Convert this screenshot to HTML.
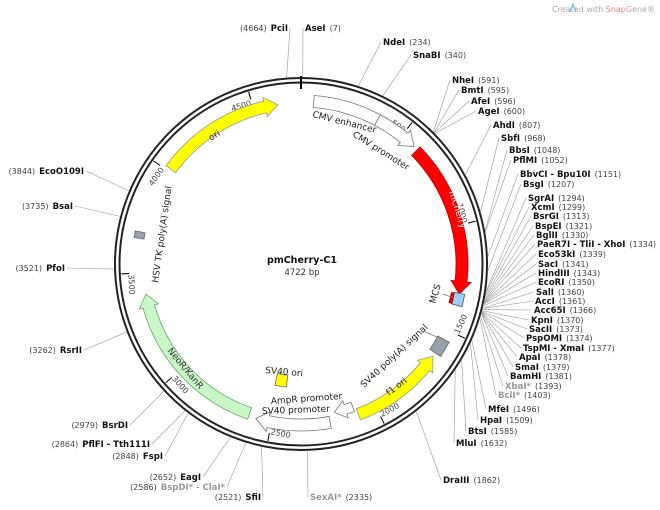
<!DOCTYPE html>
<html><head><meta charset="utf-8">
<style>
html,body{margin:0;padding:0;background:#fff;width:660px;height:510px;overflow:hidden}
svg text{font-family:"DejaVu Sans","Liberation Sans",sans-serif}
.b{font-weight:bold;font-size:8.5px;fill:#111}
.n{font-size:8px;fill:#444}
.g{font-weight:bold;font-size:8.5px;fill:#999}
.f{font-size:9px;fill:#222}
</style></head><body>
<svg id="s" width="660" height="510" xmlns="http://www.w3.org/2000/svg"></svg>
<script>
const S=document.getElementById('s');const CX=301,CY=264,T=4722;
function ang(bp){return bp/T*2*Math.PI;}
function pt(bp,r){const a=ang(bp);return [CX+r*Math.sin(a),CY-r*Math.cos(a)];}
let h='';
function add(x){h+=x;}
function P(p){return p[0].toFixed(2)+' '+p[1].toFixed(2);}
function feat(b1,b2,r,w,fill,stroke,dir){
 const ri=r-w/2,ro=r+w/2,head=Math.min(60,(b2-b1)*0.6);
 let a1=b1,a2=b2,d='';
 if(dir==1){a2=b2-head;}
 if(dir==-1){a1=b1+head;}
 const p1=pt(a1,ro),p2=pt(a2,ro),p3=pt(a2,ri),p4=pt(a1,ri);
 const la=(a2-a1)/T>0.5?1:0;
 d=`M${P(p1)} A${ro} ${ro} 0 ${la} 1 ${P(p2)}`;
 if(dir==1){const t=pt(b2,r),o=pt(a2,ro+4),i=pt(a2,ri-4);d+=` L${P(o)} L${P(t)} L${P(i)}`;}
 d+=` L${P(p3)} A${ri} ${ri} 0 ${la} 0 ${P(p4)}`;
 if(dir==-1){const t=pt(b1,r),o=pt(a1,ro+4),i=pt(a1,ri-4);d+=` L${P(i)} L${P(t)} L${P(o)}`;}
 d+='Z';
 add(`<path d="${d}" fill="${fill}" stroke="${stroke}" stroke-width="0.8"/>`);
}
add(`<circle cx="${CX}" cy="${CY}" r="186" fill="none" stroke="#222" stroke-width="2"/>`);
add(`<circle cx="${CX}" cy="${CY}" r="181.5" fill="none" stroke="#222" stroke-width="2"/>`);
add(`<line x1="${CX}" y1="${CY-188}" x2="${CX}" y2="${CY-175}" stroke="#000" stroke-width="2"/>`);
for(let b=500;b<T;b+=500){const a=pt(b,180),c=pt(b,172),l=pt(b,174);
 const deg=b/T*360;const top=(deg<90||deg>270);
 add(`<line x1="${a[0]}" y1="${a[1]}" x2="${c[0]}" y2="${c[1]}" stroke="#000" stroke-width="1"/>`);
 add(`<text class="n" font-size="8" transform="translate(${l[0]},${l[1]}) rotate(${top?deg:deg-180})" text-anchor="${top?'end':'start'}" dx="${top?-1:1}" dy="${top?8:-1}">${b}</text>`);}
feat(59,367,163,12,'#fff','#777',0);
feat(367,575,163,12,'#fff','#777',1);
feat(597,1322,161,12,'#ff0000','#b00',1);
feat(1318,1375,161,11,'#9fcfff','#555',0);
feat(1322,1372,154.5,3,'#e00','#900',0);
feat(1545,1620,161,13,'#9aa0a8','#666',0);
feat(1640,2087,161,12,'#ffff00','#999',-1);
feat(2100,2195,152,10,'#fff','#777',1);
feat(2224,2575,161,12,'#fff','#777',1);
feat(2610,3397,158,12,'#c8f7c8','#6a6',1);
feat(3660,3690,164,10,'#9aa0a8','#666',0);
feat(4015,4613,161,12,'#ffff00','#999',1);
feat(2450,2520,118,12,'#ffff00','#666',0);
add(`<text class="f" transform="translate(312,117) rotate(14)">CMV enhancer</text>`);
add(`<text class="f" transform="translate(352,136) rotate(32)">CMV promoter</text>`);
add(`<text font-size="9" fill="#fff" transform="translate(449,192) rotate(72)">mCherry</text>`);
add(`<text class="f" transform="translate(435,304) rotate(-73)">MCS</text>`);
add(`<line x1="443" y1="294" x2="454" y2="298" stroke="#777" stroke-width="0.7"/>`);
add(`<text class="f" transform="translate(364,388) rotate(-43)">SV40 poly(A) signal</text>`);
add(`<line x1="423" y1="331" x2="437" y2="337" stroke="#777" stroke-width="0.7"/>`);
add(`<text class="f" transform="translate(389,396) rotate(-38)">f1 ori</text>`);
add(`<text class="f" transform="translate(265,373) rotate(5)">SV40 ori</text>`);
add(`<text class="f" transform="translate(271,404) rotate(-4)">AmpR promoter</text>`);
add(`<text class="f" transform="translate(262,414) rotate(-2)">SV40 promoter</text>`);
add(`<text font-size="9" fill="#333" transform="translate(167,351) rotate(50)">NeoR/KanR</text>`);
add(`<text class="f" transform="translate(158,283) rotate(-82)">HSV TK poly(A) signal</text>`);
add(`<text font-size="9" fill="#222" transform="translate(211,141) rotate(-33)">ori</text>`);
add(`<text x="302" y="263" text-anchor="middle" font-weight="bold" font-size="9.5" fill="#111">pmCherry-C1</text>`);
add(`<text x="302" y="275" text-anchor="middle" font-size="8.5" fill="#333">4722 bp</text>`);
const R=[['NdeI',234,383,45],['SnaBI',340,413,58],['NheI',591,452,83],['BmtI',595,461,93],['AfeI',596,471,104],['AgeI',600,478,114],['AhdI',807,493,128],['SbfI',968,501,141],['BbsI',1048,509,153],['PflMI',1052,513,163],['BbvCI - Bpu10I',1151,520,177],['BsgI',1207,523,187],
['SgrAI',1294,528,201],['XcmI',1299,531,210],['BsrGI',1313,533,219],['BspEI',1321,535,229],['BglII',1330,536,238],['PaeR7I - TliI - XhoI',1334,537,247],['Eco53kI',1339,538,257],['SacI',1341,538,267],['HindIII',1343,538,276],['EcoRI',1350,538,285],['SalI',1360,536,295],['AccI',1361,535,304],['Acc65I',1366,534,313],['KpnI',1370,531,323],['SacII',1373,529,332],['PspOMI',1374,526,341],['TspMI - XmaI',1377,523,351],['ApaI',1378,519,360],['SmaI',1379,515,370],['BamHI',1381,510,379],['XbaI*',1393,505,389,1],['BclI*',1403,498,398,1],
['MfeI',1496,488,412],['HpaI',1509,480,423],['BtsI',1585,468,434],['MluI',1632,456,446],['DraIII',1862,443,483],['SexAI*',2335,310,500,1],['AseI',7,305,31]];
for(const r of R){const p=pt(r[1],187);const lx=r[2]-2,ly=r[3]-3;
 add(`<line x1="${p[0]}" y1="${p[1]}" x2="${lx}" y2="${ly}" stroke="#999" stroke-width="0.6"/>`);
 add(`<text x="${r[2]}" y="${r[3]}"><tspan class="${r[4]?'g':'b'}">${r[0]}</tspan><tspan class="n" dx="4">(${r[1]})</tspan></text>`);}
const L=[['PciI',4664,288,31],['EcoO109I',3844,84,174],['BsaI',3735,73,209],['PfoI',3521,65,271],['RsrII',3262,82,353],['BsrDI',2979,128,428],['PflFI - Tth111I',2864,150,447],['FspI',2848,163,459],['EagI',2652,201,480],['BspDI* - ClaI*',2586,225,490,1],['SfiI',2521,261,500]];
for(const r of L){const p=pt(r[1],187);const lx=r[2]+2,ly=r[3]-3;
 add(`<line x1="${p[0]}" y1="${p[1]}" x2="${lx}" y2="${ly}" stroke="#999" stroke-width="0.6"/>`);
 add(`<text x="${r[2]}" y="${r[3]}" text-anchor="end"><tspan class="n">(${r[1]})</tspan><tspan class="${r[4]?'g':'b'}" dx="4">${r[0]}</tspan></text>`);}
add(`<text x="655" y="12" text-anchor="end" font-size="8" fill="#aaa">Created with <tspan fill="#f08080">Snap</tspan>Gene®</text>`);
add(`<path d="M570 12 L573 4 L576 12" fill="none" stroke="#7cc4e8" stroke-width="1.5"/>`);
S.innerHTML=h;
</script>
</body></html>
